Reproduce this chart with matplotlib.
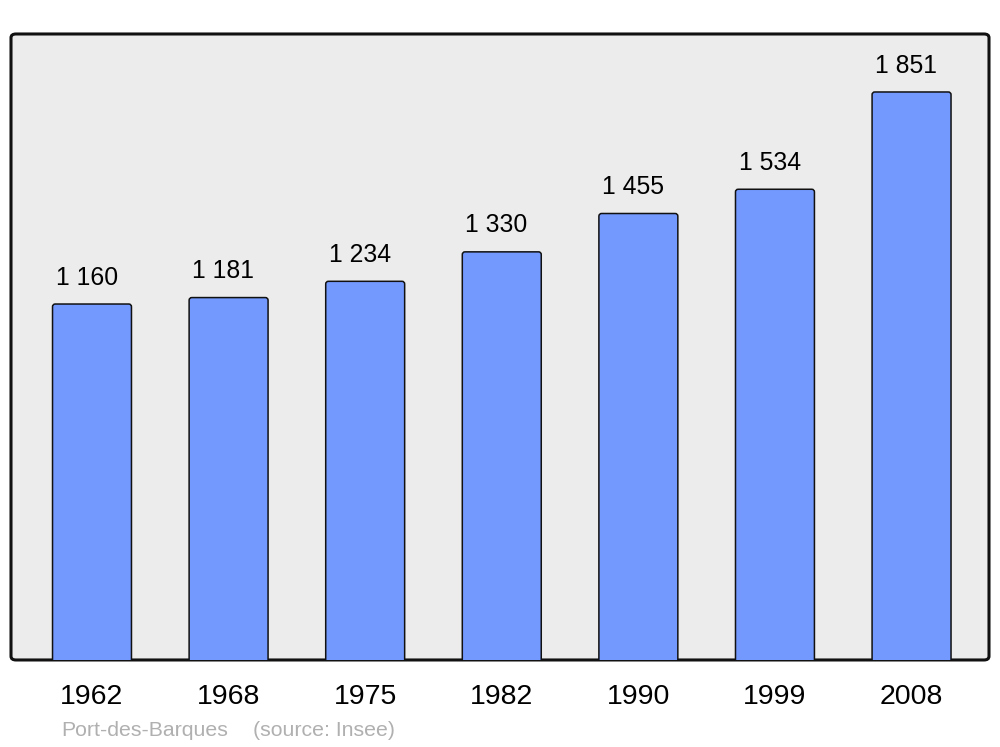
import matplotlib.pyplot as plt
from matplotlib.patches import FancyBboxPatch

plt.rcParams['font.family'] = ['Liberation Sans', 'DejaVu Sans']

years = ["1962", "1968", "1975", "1982", "1990", "1999", "2008"]
population = [1160, 1181, 1234, 1330, 1455, 1534, 1851]
labels = ["1 160", "1 181", "1 234", "1 330", "1 455", "1 534", "1 851"]

fig = plt.figure(figsize=(10, 7.47), dpi=100)
ax = fig.add_axes([0.011, 0.1165, 0.978, 0.838])
ax.patch.set_visible(False)
for s in ax.spines.values():
    s.set_visible(False)

# rounded grey frame behind the plot
frame = FancyBboxPatch((0.011, 0.1165), 0.978, 0.838,
                       boxstyle="round,pad=0,rounding_size=0.005",
                       transform=fig.transFigure, facecolor="#ececec",
                       edgecolor="#111111", linewidth=2.2, zorder=-5)
fig.patches.append(frame)

ax.set_xlim(-0.593, 6.567)
ax.set_ylim(0, 2040)

x = range(len(years))
bars = ax.bar(x, population, width=0.578, color="#7399ff",
              edgecolor="#111111", linewidth=1.1, zorder=2)
# swap the plain bars for ones with slightly rounded corners
aspect = (2040 / 626) / (7.16 / 978)
for b in bars:
    b.set_visible(False)
    rb = FancyBboxPatch((b.get_x(), -20), b.get_width(), b.get_height() + 20,
                        boxstyle="round,pad=0,rounding_size=0.02",
                        mutation_aspect=aspect, facecolor="#7399ff",
                        edgecolor="#111111", linewidth=1.1, zorder=2)
    ax.add_patch(rb)

for b, lab in zip(bars, labels):
    ax.annotate(lab, (b.get_x(), b.get_height()), xytext=(2.2, 14),
                textcoords="offset points", ha="left", va="baseline",
                fontsize=17.8)

ax.set_yticks([])
ax.set_xticks(list(x))
ax.set_xticklabels(years, fontsize=20.5)
ax.tick_params(axis="x", length=0, pad=17)

fig.text(0.061, 1 - 730 / 747, "Port-des-Barques",
         color="#b0b0b0", fontsize=15.3, va="center", ha="left")
fig.text(0.253, 1 - 730 / 747, "(source: Insee)",
         color="#b0b0b0", fontsize=15.3, va="center", ha="left")

plt.savefig("out.png", dpi=100)
